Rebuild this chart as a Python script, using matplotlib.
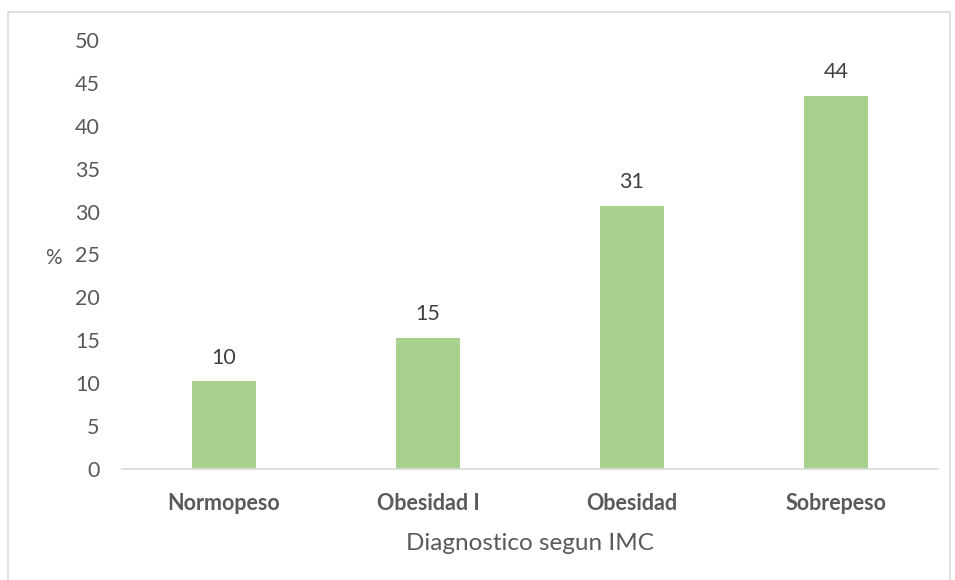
import matplotlib.pyplot as plt
from matplotlib.patches import Rectangle

categories = ["Normopeso", "Obesidad I", "Obesidad", "Sobrepeso"]
values = [10.2, 15.3, 30.7, 43.5]
labels = ["10", "15", "31", "44"]
yticks = [0, 5, 10, 15, 20, 25, 30, 35, 40, 45, 50]

plt.rcParams['font.family'] = ['Lato', 'DejaVu Sans']

W, H = 955, 580
fig = plt.figure(figsize=(W / 100, H / 100), dpi=100)
# plot area in pixels: x 122..938, y 40..469
ax = fig.add_axes([122 / W, 1 - 469 / H, 816 / W, 429 / H])

# outer frame
fig.patches.append(Rectangle((8 / W, -0.01), 942 / W, 1 - 12 / H + 0.01,
                             transform=fig.transFigure, fill=False,
                             edgecolor="#d9d9d9", linewidth=1.2))

x = range(len(categories))
ax.bar(x, values, width=0.315, color="#a9d18e", zorder=2)
for i, v in enumerate(values):
    ax.text(i, v + 1.6, labels[i], ha="center", va="bottom",
            fontsize=15.5, color="#404040")

ax.set_xlim(-0.5, len(categories) - 0.5)
ax.set_ylim(0, 50)
ax.set_yticks(yticks)
ax.set_yticklabels([str(t) for t in yticks], fontsize=15.5, color="#595959")
ax.set_xticks(list(x))
ax.set_xticklabels(categories, fontsize=15.5, fontweight="bold", color="#595959")
ax.tick_params(axis="both", length=0)
ax.tick_params(axis="y", pad=16)
ax.tick_params(axis="x", pad=17)

for s in ["top", "right", "left"]:
    ax.spines[s].set_visible(False)
ax.spines["bottom"].set_color("#d9d9d9")
ax.spines["bottom"].set_linewidth(1.2)

ax.set_xlabel("Diagnostico segun IMC", fontsize=17.5, color="#595959", labelpad=14)
fig.text(53 / W, 1 - 258 / H, "%", fontsize=15, color="#595959",
         ha="center", va="center")

fig.savefig("out.png", dpi=100, facecolor="white")
